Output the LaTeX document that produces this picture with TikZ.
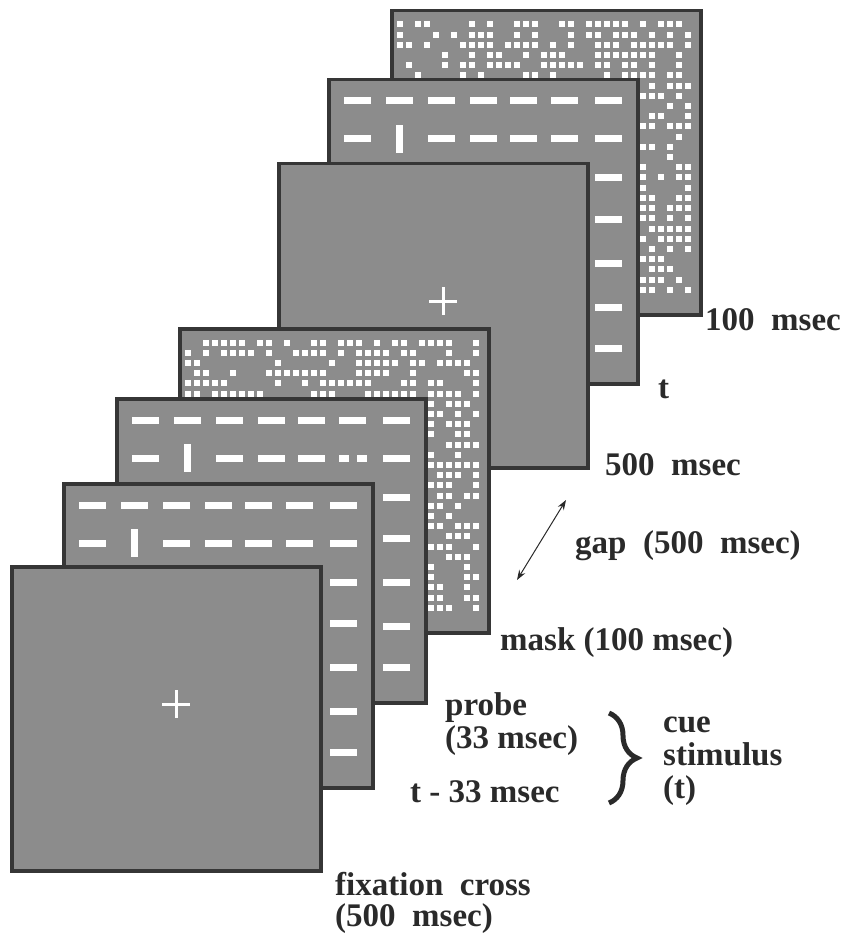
\documentclass[tikz,border=0pt]{standalone}
\usepackage{fontspec}
\setmainfont{Liberation Serif}
\usetikzlibrary{arrows.meta,positioning,decorations.pathreplacing}
\definecolor{screen}{HTML}{8C8C8C}
\definecolor{frame}{HTML}{363636}
\definecolor{ink}{HTML}{2A2A2A}
\tikzset{
  panel/.style={draw=frame, fill=screen, line width=3.5pt, anchor=north west,
    minimum width=309pt, minimum height=304pt, inner sep=0pt},
  lbl/.style={font=\fontsize{33}{36}\selectfont\bfseries, text=ink,
    inner sep=0pt, anchor=base west},
  bright/.style={fill=white},
  crossline/.style={draw=white, line width=3pt},
  gaparr/.style={{Stealth[length=10pt,width=7pt]}-{Stealth[length=10pt,width=7pt]},
    line width=1pt, draw=ink},
  bracepath/.style={decorate, decoration={brace, amplitude=28pt},
    line width=5pt, draw=ink}
}
\newcommand{\dashgrid}[2]{%
  \foreach \dx [count=\ci] in {17,59,101,143,183,224,268}{%
    \foreach \dy [count=\ri] in {23,61,100,141,185,229,270}{%
      \pgfmathtruncatemacro\cellkind{(\ri==2)*(\ci==2)+2*(\ri==2)*(\ci==6)*#2}%
      \ifcase\cellkind
        \fill[bright] ([shift={(\dx,\dy-3.5)}]#1.north west) rectangle ++(27,7);
      \or
        \fill[bright] ([shift={(\dx+10,\dy-14)}]#1.north west) rectangle ++(7,28);
      \or
        \fill[bright] ([shift={(\dx,\dy-3.5)}]#1.north west) rectangle ++(10,7);
        \fill[bright] ([shift={(\dx+18,\dy-3.5)}]#1.north west) rectangle ++(10,7);
      \fi}}}
\newcommand{\dotgrid}[1]{%
  \foreach \ci in {0,...,32}{%
    \foreach \ri in {0,...,26}{%
      \pgfmathrandominteger{\pick}{0}{99}%
      \ifnum\pick<52
        \fill[bright] ([shift={(6.5+9*\ci,12.5+10.2*\ri)}]#1.north west) rectangle ++(6,6);
      \fi}}}
\newcommand{\fixmark}[1]{%
  \draw[crossline] ([shift={(152,139)}]#1.north west) -- ++(28,0)
    ([shift={(166,125)}]#1.north west) -- ++(0,28);}

\begin{document}
\begin{tikzpicture}[x=1pt, y=-1pt]
  \useasboundingbox (0,0) rectangle (848,936);
  \pgfmathsetseed{11}

  \node[panel] (maskB) at (390,9) {};
  \dotgrid{maskB}
  \node[panel] (cueB) at (327,78) {};
  \dashgrid{cueB}{0}
  \node[panel] (fixB) at (277,162) {};
  \fixmark{fixB}
  \node[panel] (maskA) at (178,327) {};
  \dotgrid{maskA}
  \node[panel] (probe) at (115,397) {};
  \dashgrid{probe}{1}
  \node[panel] (cueA) at (62,482) {};
  \dashgrid{cueA}{0}
  \node[panel] (fixA) at (10,565) {};
  \fixmark{fixA}

  \node[lbl] (maskBtime) at (705,330) {100~~msec};
  \node[lbl] (cueBtime) at (658,398) {t};
  \node[lbl] (fixBtime) at (605,475) {500~~msec};
  \node[lbl] (gaptime) at (575,553) {gap~~(500~~msec)};
  \node[lbl] (maskAtime) at (500,650) {mask (100 msec)};
  \node[lbl] (probeA) at (445,715) {probe};
  \node[lbl] (probeB) at ([yshift=-33pt]probeA.base west) {(33 msec)};
  \node[lbl] (cueAtime) at (410,802) {t - 33 msec};
  \node[lbl] (cueword) at (663,732) {cue};
  \node[lbl] (stimword) at ([yshift=-33pt]cueword.base west) {stimulus};
  \node[lbl] (tword) at ([yshift=-33pt]stimword.base west) {(t)};
  \node[lbl] (fixAname) at (335,895) {fixation~~cross};
  \node[lbl] (fixAtime) at ([yshift=-31pt]fixAname.base west) {(500~~msec)};

  \coordinate (gapA) at (517,580);
  \coordinate (gapB) at (566,500);
  \draw[gaparr] (gapA) -- (gapB);
  \coordinate (braceT) at (609,713);
  \coordinate (braceB) at (609,803);
  \draw[bracepath] (braceT) -- (braceB);
\end{tikzpicture}
\end{document}
